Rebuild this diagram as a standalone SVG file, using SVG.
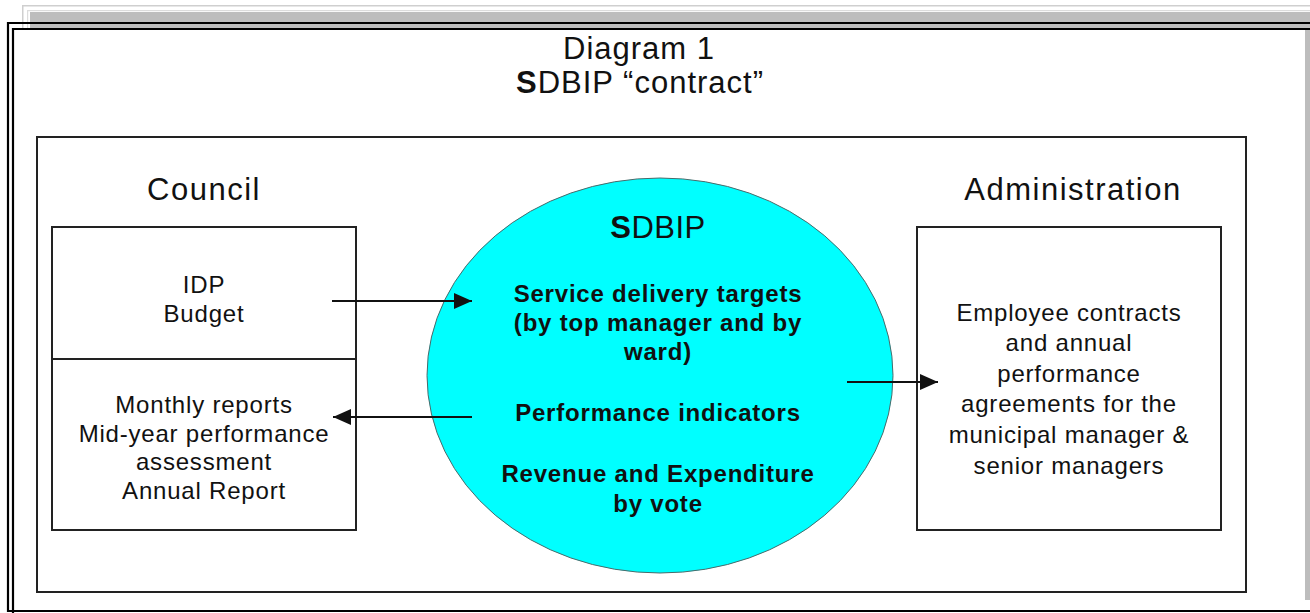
<svg xmlns="http://www.w3.org/2000/svg" width="1310" height="613" viewBox="0 0 1310 613">
  <style>
    text { font-family: "Liberation Sans", Arial, sans-serif; fill: #111; text-anchor: middle; }
    .title { font-size: 31px; letter-spacing: 1px; }
    .head { font-size: 31px; letter-spacing: 1.5px; }
    .body { font-size: 24px; letter-spacing: 0.8px; }
    .bold { font-size: 24px; letter-spacing: 0.8px; font-weight: bold; }
    .box { fill: #fff; stroke: #222; stroke-width: 2; }
    .conn { stroke: #111; stroke-width: 2; fill: none; }
  </style>
  <defs>
    <marker id="ah" markerUnits="userSpaceOnUse" markerWidth="20" markerHeight="18" refX="18" refY="8" orient="auto">
      <path d="M0,0 L18,8 L0,16 Z" fill="#111"/>
    </marker>
  </defs>
  <rect width="1310" height="613" fill="#fff"/>
  <g id="frame">
    <rect x="22" y="5" width="1288" height="1.5" fill="#cfcfcf"/>
    <rect x="22" y="5" width="1.5" height="24" fill="#cfcfcf"/>
    <rect x="27" y="10" width="1283" height="1.2" fill="#dcdcdc"/>
    <rect x="27" y="10" width="1.2" height="19" fill="#dcdcdc"/>
    <rect x="30" y="12" width="1280" height="10" fill="#bdbdbd"/>
    <rect x="30" y="24" width="1280" height="4" fill="#bdbdbd"/>
    <rect x="1305" y="30" width="5" height="570" fill="#bdbdbd"/>
    <path d="M1310,23 H8 V611 H1310" fill="none" stroke="#000" stroke-width="2.2"/>
    <path d="M1310,29 H13 V613" fill="none" stroke="#000" stroke-width="2.2"/>
  </g>
  <g id="title">
    <text class="title" x="639" y="59">Diagram 1</text>
    <text class="title" x="640" y="93"><tspan font-weight="bold">S</tspan>DBIP “contract”</text>
  </g>
  <g id="container">
    <rect x="37" y="137" width="1209" height="455" fill="none" stroke="#222" stroke-width="2"/>
  </g>
  <g id="council">
    <text class="head" x="204" y="200">Council</text>
    <rect class="box" x="52" y="227" width="304" height="303"/>
    <line x1="52" y1="359" x2="356" y2="359" stroke="#222" stroke-width="2"/>
    <text class="body" x="204" y="293">IDP</text>
    <text class="body" x="204" y="322">Budget</text>
    <text class="body" x="204" y="413">Monthly reports</text>
    <text class="body" x="204" y="442">Mid-year performance</text>
    <text class="body" x="204" y="470">assessment</text>
    <text class="body" x="204" y="499">Annual Report</text>
  </g>
  <g id="administration">
    <text class="head" x="1073" y="200">Administration</text>
    <rect class="box" x="917" y="227" width="304" height="303"/>
    <text class="body" x="1069" y="321">Employee contracts</text>
    <text class="body" x="1069" y="351">and annual</text>
    <text class="body" x="1069" y="382">performance</text>
    <text class="body" x="1069" y="412">agreements for the</text>
    <text class="body" x="1069" y="443">municipal manager &amp;</text>
    <text class="body" x="1069" y="474">senior managers</text>
  </g>
  <g id="sdbip">
    <ellipse cx="660" cy="375.5" rx="233" ry="197.5" fill="#00ffff" stroke="#4a6a6a" stroke-width="1"/>
    <text x="658" y="238" style="font-size:31px;letter-spacing:0.5px"><tspan font-weight="bold">S</tspan>DBIP</text>
    <text class="bold" x="658" y="302">Service delivery targets</text>
    <text class="bold" x="658" y="331">(by top manager and by</text>
    <text class="bold" x="658" y="360">ward)</text>
    <text class="bold" x="658" y="421">Performance indicators</text>
    <text class="bold" x="658" y="482">Revenue and Expenditure</text>
    <text class="bold" x="658" y="512">by vote</text>
  </g>
  <g id="connectors">
    <line class="conn" x1="332" y1="301" x2="472" y2="301" marker-end="url(#ah)"/>
    <line class="conn" x1="472" y1="417" x2="333" y2="417" marker-end="url(#ah)"/>
    <line class="conn" x1="847" y1="382" x2="938" y2="382" marker-end="url(#ah)"/>
  </g>
</svg>
